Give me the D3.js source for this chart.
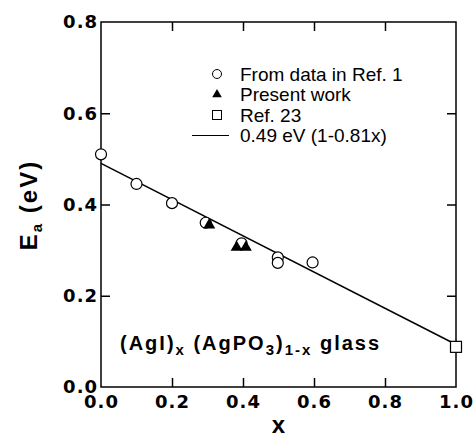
<!DOCTYPE html>
<html>
<head>
<meta charset="utf-8">
<script src="https://cdn.jsdelivr.net/npm/d3@7"></script>
<style>
  body { margin: 0; background: #fff; }
  svg { display: block; }
</style>
</head>
<body>
<div id="chart"></div>
<script>
// data
const circX = [0, 0.1, 0.2, 0.295, 0.396, 0.498, 0.498, 0.596]
const circY = [0.51, 0.445, 0.403, 0.36, 0.315, 0.284, 0.272, 0.273]
const triX = [0.305, 0.382, 0.408]
const triY = [0.355, 0.306, 0.306]
const sqX = [1.0]
const sqY = [0.088]
const fitE0 = 0.49
const fitK = 0.81
const xTicks = [0, 0.2, 0.4, 0.6, 0.8, 1.0]
const yTicks = [0, 0.2, 0.4, 0.6, 0.8]
const legendLabels = ["From data in Ref. 1", "Present work", "Ref. 23", "0.49 eV (1-0.81x)"]

const width = 474
const height = 435
const margin = { top: 22, bottom: 48, left: 101, right: 18 }
const innerWidth = width - margin.left - margin.right
const innerHeight = height - margin.top - margin.bottom

const svg = d3.select('#chart').append('svg')
  .attr('width', width)
  .attr('height', height)

svg.append('rect').attr('width', width).attr('height', height).attr('fill', '#fff')

const g = svg.append('g')
  .attr('transform', `translate(${margin.left},${margin.top})`)

const xScale = d3.scaleLinear().domain([0, 1]).range([0, innerWidth])
const yScale = d3.scaleLinear().domain([0, 0.8]).range([innerHeight, 0])

const tickFont = (sel) => sel.selectAll('text')
  .attr('font-family', 'DejaVu Sans')
  .attr('font-weight', 'bold')
  .attr('font-size', 18)
  .attr('letter-spacing', '1px')
  .attr('fill', '#000')

const styleAxis = (sel) => {
  sel.select('.domain').remove()
  sel.selectAll('line').attr('stroke', '#000').attr('stroke-width', 1.5)
}

// bottom axis
const xAxisGroup = g.append('g')
  .attr('transform', `translate(0,${innerHeight})`)
  .call(d3.axisBottom(xScale).tickValues(xTicks).tickFormat(d3.format('.1f')).tickSize(-9).tickPadding(8))
xAxisGroup.call(styleAxis).call(tickFont)
xAxisGroup.selectAll('.tick').filter(d => d === 0 || d === 1).select('line').remove()

// left axis
const yAxisGroup = g.append('g')
  .call(d3.axisLeft(yScale).tickValues(yTicks).tickFormat(d3.format('.1f')).tickSize(-9).tickPadding(3))
yAxisGroup.call(styleAxis).call(tickFont)
yAxisGroup.selectAll('.tick').filter(d => d === 0 || d === 0.8).select('line').remove()

// top and right ticks
g.append('g')
  .call(d3.axisTop(xScale).tickValues(xTicks.slice(1, -1)).tickFormat('').tickSize(-9))
  .call(styleAxis)
g.append('g')
  .attr('transform', `translate(${innerWidth},0)`)
  .call(d3.axisRight(yScale).tickValues(yTicks.slice(1, -1)).tickFormat('').tickSize(-9))
  .call(styleAxis)

// frame
g.append('rect')
  .attr('width', innerWidth)
  .attr('height', innerHeight)
  .attr('fill', 'none')
  .attr('stroke', '#000')
  .attr('stroke-width', 1.5)

// fit line
const fit = x => fitE0 * (1 - fitK * x)
g.append('line')
  .attr('x1', xScale(0)).attr('y1', yScale(fit(0)))
  .attr('x2', xScale(1)).attr('y2', yScale(fit(1)))
  .attr('stroke', '#000')
  .attr('stroke-width', 1.5)

// circles
g.selectAll('circle.ref1')
  .data(circX.map((x, i) => [x, circY[i]]))
  .enter()
  .append('circle')
  .attr('class', 'ref1')
  .attr('cx', d => xScale(d[0]))
  .attr('cy', d => yScale(d[1]))
  .attr('r', 5.5)
  .attr('fill', '#fff')
  .attr('stroke', '#000')
  .attr('stroke-width', 1.2)

// triangles
const tri = d3.symbol().type(d3.symbolTriangle).size(62)
g.selectAll('path.present')
  .data(triX.map((x, i) => [x, triY[i]]))
  .enter()
  .append('path')
  .attr('class', 'present')
  .attr('d', tri)
  .attr('transform', d => `translate(${xScale(d[0])},${yScale(d[1])})`)
  .attr('fill', '#000')

// square
g.selectAll('rect.ref23')
  .data(sqX.map((x, i) => [x, sqY[i]]))
  .enter()
  .append('rect')
  .attr('class', 'ref23')
  .attr('x', d => xScale(d[0]) - 5.5)
  .attr('y', d => yScale(d[1]) - 5.5)
  .attr('width', 11)
  .attr('height', 11)
  .attr('fill', '#fff')
  .attr('stroke', '#000')
  .attr('stroke-width', 1.2)

// legend
const legend = svg.append('g').attr('transform', 'translate(217,74)')
const rowH = 20.5
legendLabels.forEach((label, i) => {
  legend.append('text')
    .text(label)
    .attr('x', 23)
    .attr('y', i * rowH + 6.5)
    .attr('font-family', 'Liberation Sans, Arial, sans-serif')
    .attr('font-size', 19)
    .attr('fill', '#000')
})
legend.append('circle').attr('cx', 0).attr('cy', 0).attr('r', 4.5)
  .attr('fill', '#fff').attr('stroke', '#000').attr('stroke-width', 1)
legend.append('path').attr('d', d3.symbol().type(d3.symbolTriangle).size(40))
  .attr('transform', `translate(0,${rowH})`).attr('fill', '#000')
legend.append('rect').attr('x', -4.5).attr('y', 2 * rowH - 4.5).attr('width', 9).attr('height', 9)
  .attr('fill', '#fff').attr('stroke', '#000').attr('stroke-width', 1)
legend.append('line').attr('x1', -25).attr('x2', 12).attr('y1', 3 * rowH).attr('y2', 3 * rowH)
  .attr('stroke', '#000').attr('stroke-width', 1)

// annotation
const note = g.append('text')
  .attr('x', 19)
  .attr('y', 328)
  .attr('font-family', 'Liberation Sans, Arial, sans-serif')
  .attr('font-weight', 'bold')
  .attr('font-size', 20)
  .attr('letter-spacing', '2px')
  .attr('fill', '#000')
note.append('tspan').text('(AgI)')
note.append('tspan').text('x').attr('dy', 5).attr('font-size', 15)
note.append('tspan').text(' (AgPO').attr('dy', -5)
note.append('tspan').text('3').attr('dy', 5).attr('font-size', 15)
note.append('tspan').text(')').attr('dy', -5)
note.append('tspan').text('1-x').attr('dy', 5).attr('font-size', 15)
note.append('tspan').text(' glass').attr('dy', -5)

// axis titles
svg.append('text')
  .text('x')
  .attr('x', margin.left + innerWidth / 2)
  .attr('y', 433)
  .attr('text-anchor', 'middle')
  .attr('font-family', 'Liberation Sans, Arial, sans-serif')
  .attr('font-weight', 'bold')
  .attr('font-size', 24)
  .attr('fill', '#000')

const yTitle = svg.append('text')
  .attr('transform', 'translate(37,205) rotate(-90)')
  .attr('text-anchor', 'middle')
  .attr('font-family', 'Liberation Sans, Arial, sans-serif')
  .attr('font-weight', 'bold')
  .attr('font-size', 24)
  .attr('letter-spacing', '2px')
  .attr('fill', '#000')
yTitle.append('tspan').text('E')
yTitle.append('tspan').text('a').attr('dy', 5).attr('font-size', 15)
yTitle.append('tspan').text(' (eV)').attr('dy', -5)
</script>
</body>
</html>
